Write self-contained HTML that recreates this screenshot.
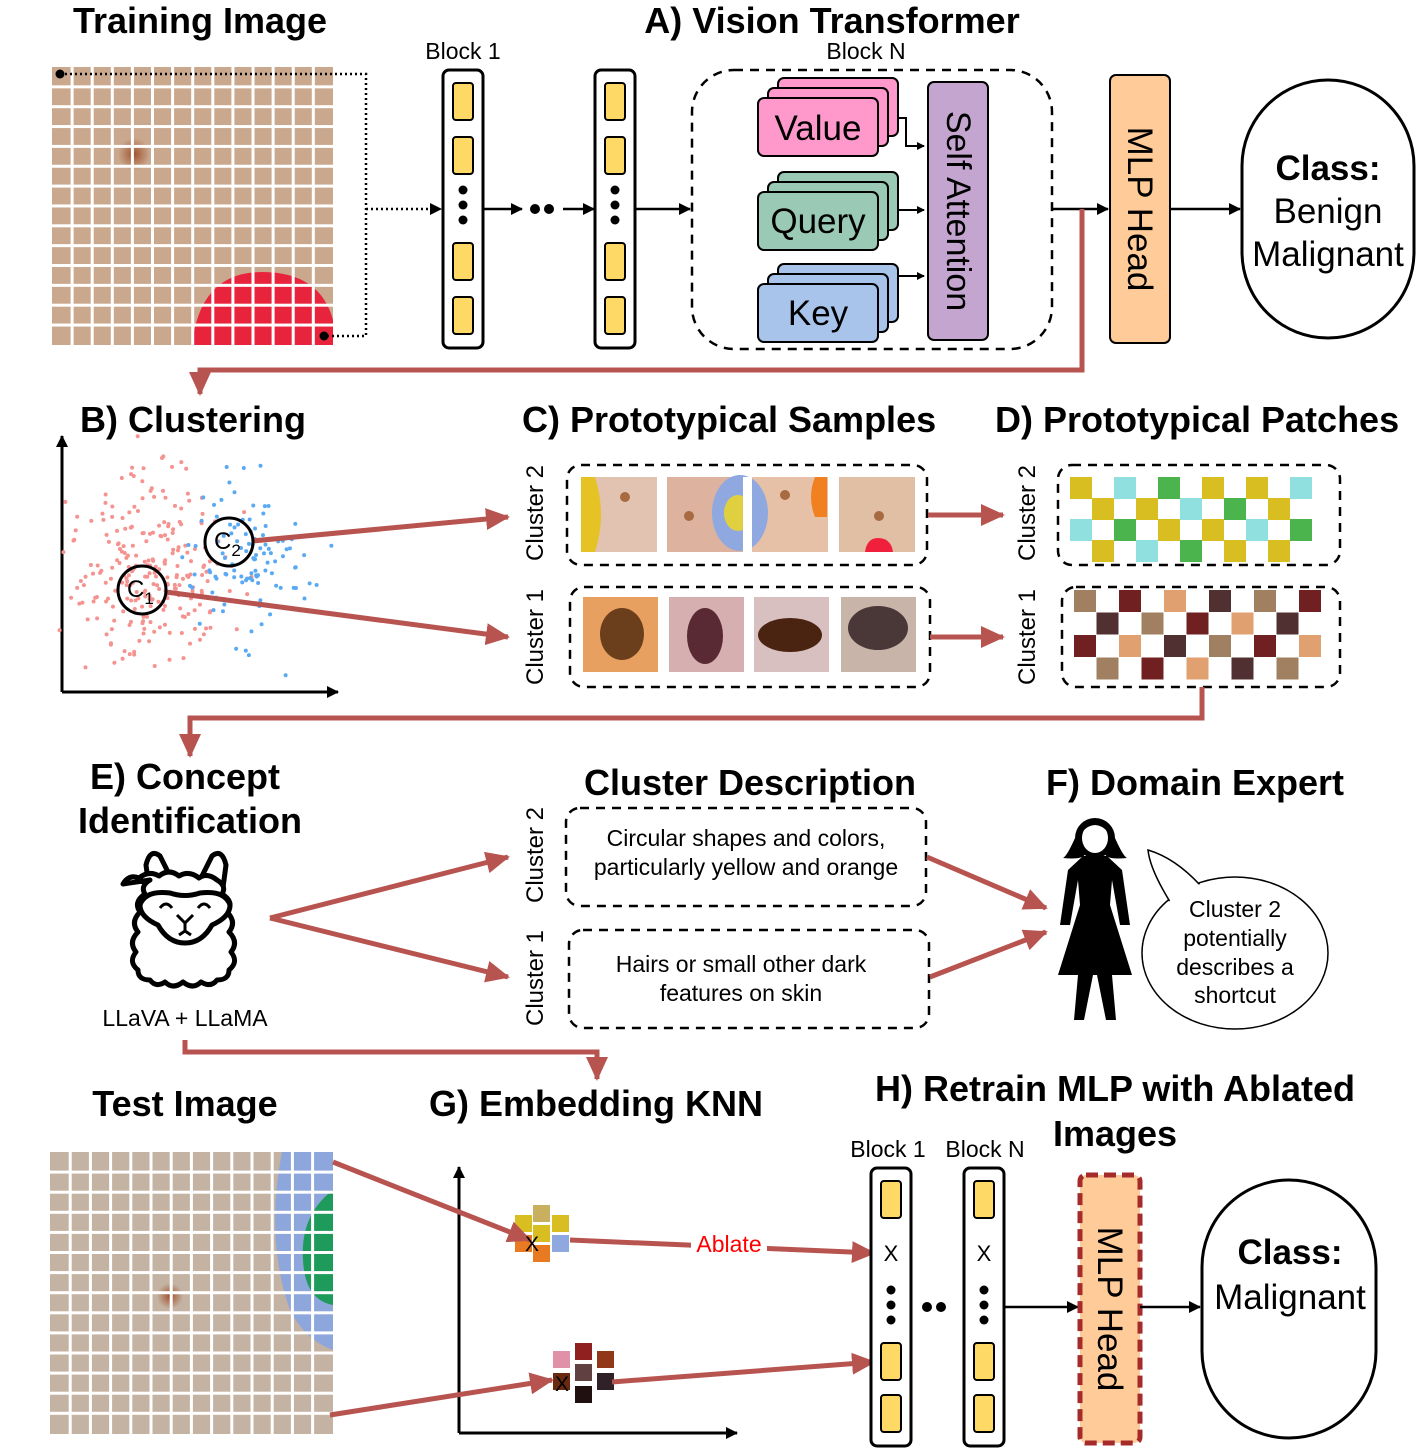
<!DOCTYPE html>
<html><head><meta charset="utf-8"><style>
html,body{margin:0;padding:0;background:#fff;}
svg{display:block;font-family:"Liberation Sans",Arial,sans-serif;}
.t{font-weight:bold;font-size:36px;}
</style></head><body>
<svg id="s" width="1417" height="1450" viewBox="0 0 1417 1450" xmlns="http://www.w3.org/2000/svg">
<defs>
<marker id="ab" markerWidth="8" markerHeight="8" refX="7" refY="4" orient="auto" markerUnits="userSpaceOnUse"><path d="M0,0 L8,4 L0,8 z" fill="#000"/></marker>
<marker id="ab2" markerWidth="12" markerHeight="12" refX="11" refY="6" orient="auto" markerUnits="userSpaceOnUse"><path d="M0,0 L12,6 L0,12 z" fill="#000"/></marker>
<marker id="ar" markerWidth="24" markerHeight="22" refX="22" refY="11" orient="auto" markerUnits="userSpaceOnUse"><path d="M0,0 L24,11 L0,22 z" fill="#B85450"/></marker>
<radialGradient id="mole" cx="0.5" cy="0.5" r="0.5"><stop offset="0" stop-color="#a0522d"/><stop offset="1" stop-color="#a0522d" stop-opacity="0"/></radialGradient>
</defs>
<g id="g"></g>

<text class="t" x="200" y="33" text-anchor="middle">Training Image</text>
<text class="t" x="832" y="33" text-anchor="middle">A) Vision Transformer</text>
<text x="463" y="59" font-size="23" text-anchor="middle">Block 1</text>
<text x="866" y="59" font-size="23" text-anchor="middle">Block N</text>

<path d="M60,74 H366 V336 H324" fill="none" stroke="#000" stroke-width="2.5" stroke-dasharray="2,3"/>
<circle cx="60" cy="74" r="4.5"/><circle cx="324" cy="336" r="4.5"/>
<line x1="366" y1="209" x2="441" y2="209" stroke="#000" stroke-width="2.5" stroke-dasharray="2,3" marker-end="url(#ab2)"/>
<line x1="483" y1="209" x2="522" y2="209" stroke="#000" stroke-width="2.5" marker-end="url(#ab2)"/>
<circle cx="535" cy="209" r="5"/><circle cx="549" cy="209" r="5"/>
<line x1="563" y1="209" x2="594" y2="209" stroke="#000" stroke-width="2.5" marker-end="url(#ab2)"/>
<line x1="635" y1="209" x2="690" y2="209" stroke="#000" stroke-width="2.5" marker-end="url(#ab2)"/>

<rect x="692" y="70" width="360" height="279" rx="42" fill="none" stroke="#000" stroke-width="2.5" stroke-dasharray="9,7"/>
<g stroke="#000" stroke-width="2">
<rect x="778" y="78" width="120" height="58" rx="6" fill="#FF99CC"/><rect x="768" y="88" width="120" height="58" rx="6" fill="#FF99CC"/><rect x="758" y="98" width="120" height="58" rx="6" fill="#FF99CC"/>
<rect x="778" y="172" width="120" height="58" rx="6" fill="#9AC9B6"/><rect x="768" y="182" width="120" height="58" rx="6" fill="#9AC9B6"/><rect x="758" y="192" width="120" height="58" rx="6" fill="#9AC9B6"/>
<rect x="778" y="264" width="120" height="58" rx="6" fill="#A9C4EB"/><rect x="768" y="274" width="120" height="58" rx="6" fill="#A9C4EB"/><rect x="758" y="284" width="120" height="58" rx="6" fill="#A9C4EB"/>
<rect x="928" y="82" width="60" height="258" rx="6" fill="#C3A5CF"/>
<rect x="1110" y="75" width="60" height="268" rx="6" fill="#FFCC99"/>
</g>
<text x="818" y="140" font-size="35" text-anchor="middle">Value</text>
<text x="818" y="233" font-size="35" text-anchor="middle">Query</text>
<text x="818" y="325" font-size="35" text-anchor="middle">Key</text>
<g fill="none" stroke="#000" stroke-width="2">
<path d="M898,118 H906 V146 H924" marker-end="url(#ab)"/>
<path d="M898,210 H924" marker-end="url(#ab)"/>
<path d="M898,302 V276 H924" marker-end="url(#ab)"/>
</g>
<text transform="translate(947,211) rotate(90)" font-size="34" text-anchor="middle">Self Attention</text>
<text transform="translate(1128,209) rotate(90)" font-size="35" text-anchor="middle">MLP Head</text>
<line x1="1052" y1="209" x2="1108" y2="209" stroke="#000" stroke-width="2.5" marker-end="url(#ab2)"/>
<line x1="1170" y1="209" x2="1240" y2="209" stroke="#000" stroke-width="2.5" marker-end="url(#ab2)"/>
<rect x="1242" y="80" width="172" height="258" rx="86" fill="#fff" stroke="#000" stroke-width="3"/>
<text x="1328" y="180" font-size="35" font-weight="bold" text-anchor="middle">Class:</text>
<text x="1328" y="223" font-size="35" text-anchor="middle">Benign</text>
<text x="1328" y="266" font-size="35" text-anchor="middle">Malignant</text>

<path d="M1082,209 V370 H200 V394" fill="none" stroke="#B85450" stroke-width="5" marker-end="url(#ar)"/>

<text class="t" x="80" y="432">B) Clustering</text>
<line x1="62" y1="692" x2="62" y2="436" stroke="#000" stroke-width="3" marker-end="url(#ab2)"/>
<line x1="62" y1="692" x2="338" y2="692" stroke="#000" stroke-width="3" marker-end="url(#ab2)"/>
<g id="sc"></g>
<line x1="252" y1="541" x2="508" y2="517" stroke="#B85450" stroke-width="5" marker-end="url(#ar)"/>
<line x1="166" y1="592" x2="508" y2="637" stroke="#B85450" stroke-width="5" marker-end="url(#ar)"/>
<circle cx="229" cy="542" r="24" fill="none" stroke="#000" stroke-width="3"/>
<circle cx="142" cy="590" r="24" fill="none" stroke="#000" stroke-width="3"/>
<text x="214" y="549" font-size="24">C<tspan font-size="17" dy="7">2</tspan></text>
<text x="127" y="597" font-size="24">C<tspan font-size="17" dy="7">1</tspan></text>

<text class="t" x="522" y="432">C) Prototypical Samples</text>
<text class="t" x="995" y="432">D) Prototypical Patches</text>
<g font-size="24" text-anchor="middle">
<text transform="translate(543,513) rotate(-90)">Cluster 2</text>
<text transform="translate(543,637) rotate(-90)">Cluster 1</text>
<text transform="translate(1035,513) rotate(-90)">Cluster 2</text>
<text transform="translate(1035,637) rotate(-90)">Cluster 1</text>
<text transform="translate(543,855) rotate(-90)">Cluster 2</text>
<text transform="translate(543,978) rotate(-90)">Cluster 1</text>
</g>
<g fill="none" stroke="#000" stroke-width="2.5" stroke-dasharray="9,7">
<rect x="567" y="465" width="360" height="100" rx="14"/>
<rect x="570" y="587" width="360" height="100" rx="14"/>
<rect x="1058" y="465" width="282" height="100" rx="14"/>
<rect x="1062" y="587" width="278" height="100" rx="14"/>
</g>
<g id="imgs"></g>
<line x1="928" y1="515" x2="1003" y2="515" stroke="#B85450" stroke-width="5" marker-end="url(#ar)"/>
<line x1="930" y1="637" x2="1003" y2="637" stroke="#B85450" stroke-width="5" marker-end="url(#ar)"/>
<path d="M1202,687 V718 H190 V756" fill="none" stroke="#B85450" stroke-width="5" marker-end="url(#ar)"/>

<text class="t" x="185" y="789" text-anchor="middle">E) Concept</text>
<text class="t" x="190" y="833" text-anchor="middle">Identification</text>
<g fill="#fff" stroke="#000" stroke-width="5" stroke-linejoin="round">
<path d="M150,895 L146,865 Q150,848 160,856 L172,880 L200,880 L212,856 Q222,848 226,865 L222,895 Z"/>
<path d="M150,880 q-10,6 -5,14 q-12,8 -5,18 q-10,10 -2,20 q-10,10 -2,20 q-8,10 2,18 q0,10 12,10 q6,8 15,2 q8,8 18,0 q10,8 18,0 q10,6 16,-2 q12,0 12,-10 q10,-8 2,-18 q8,-10 -2,-20 q8,-10 -2,-20 q8,-10 -5,-18 q5,-8 -5,-14 q-10,-8 -18,-2 q-10,-8 -20,-2 q-10,-8 -20,0 q-10,-6 -20,2 q-10,-4 -16,6 z"/>
<path d="M140,905 q5,-15 30,-12 q15,5 30,0 q25,-3 30,12 q0,12 -18,20 q-10,18 -27,18 q-17,0 -27,-18 q-18,-8 -18,-20z"/>
</g>
<g fill="none" stroke="#000" stroke-width="3"><path d="M160,908 q6,-8 12,0"/><path d="M198,908 q6,-8 12,0"/><path d="M177,915 l8,8 l8,-8 M185,923 v8 l-6,4 M185,931 l6,4"/></g>
<text x="185" y="1026" font-size="23" text-anchor="middle">LLaVA + LLaMA</text>
<line x1="270" y1="918" x2="508" y2="857" stroke="#B85450" stroke-width="5" marker-end="url(#ar)"/>
<line x1="270" y1="918" x2="508" y2="977" stroke="#B85450" stroke-width="5" marker-end="url(#ar)"/>
<text class="t" x="750" y="795" text-anchor="middle">Cluster Description</text>
<g fill="none" stroke="#000" stroke-width="2.5" stroke-dasharray="9,7">
<rect x="566" y="808" width="360" height="98" rx="14"/>
<rect x="569" y="930" width="360" height="98" rx="14"/>
</g>
<g font-size="23" text-anchor="middle">
<text x="746" y="846">Circular shapes and colors,</text>
<text x="746" y="875">particularly yellow and orange</text>
<text x="741" y="972">Hairs or small other dark</text>
<text x="741" y="1001">features on skin</text>
</g>
<line x1="927" y1="857" x2="1046" y2="908" stroke="#B85450" stroke-width="5" marker-end="url(#ar)"/>
<line x1="930" y1="977" x2="1046" y2="932" stroke="#B85450" stroke-width="5" marker-end="url(#ar)"/>

<text class="t" x="1195" y="795" text-anchor="middle">F) Domain Expert</text>
<g fill="#000">
<ellipse cx="1095" cy="838" rx="20" ry="20"/>
<path d="M1075,838 q-8,18 -12,20 q20,2 22,-4 z M1115,838 q8,18 12,20 q-20,2 -22,-4 z"/>
<path d="M1083,856 L1107,856 L1122,870 L1130,925 L1120,925 L1112,880 L1110,905 L1132,975 L1112,975 L1116,1020 L1106,1020 L1097,975 L1093,975 L1084,1020 L1074,1020 L1078,975 L1058,975 L1080,905 L1078,880 L1070,925 L1060,925 L1068,870 z"/>
</g>
<ellipse cx="1095" cy="838" rx="13" ry="15" fill="#fff"/>
<path d="M1082,832 q13,-14 26,0 q-6,-10 -13,-10 q-7,0 -13,10z" fill="#000"/>
<ellipse cx="1235" cy="953" rx="93" ry="76" fill="#fff" stroke="#000" stroke-width="1.5"/>
<path d="M1172,905 Q1150,870 1148,850 Q1175,858 1200,885" fill="#fff" stroke="#000" stroke-width="1.5"/>
<ellipse cx="1235" cy="953" rx="91.5" ry="74.5" fill="#fff"/>
<g font-size="23" text-anchor="middle">
<text x="1235" y="917">Cluster 2</text><text x="1235" y="946">potentially</text><text x="1235" y="975">describes a</text><text x="1235" y="1003">shortcut</text>
</g>

<path d="M185,1040 V1052 H597 V1079" fill="none" stroke="#B85450" stroke-width="5" marker-end="url(#ar)"/>

<text class="t" x="185" y="1116" text-anchor="middle">Test Image</text>
<text class="t" x="596" y="1116" text-anchor="middle">G) Embedding KNN</text>
<text class="t" x="1115" y="1101" text-anchor="middle">H) Retrain MLP with Ablated</text>
<text class="t" x="1115" y="1146" text-anchor="middle">Images</text>
<line x1="459" y1="1433" x2="459" y2="1167" stroke="#000" stroke-width="3" marker-end="url(#ab2)"/>
<line x1="459" y1="1433" x2="737" y2="1433" stroke="#000" stroke-width="3" marker-end="url(#ab2)"/>
<g id="knn"></g>
<line x1="333" y1="1162" x2="530" y2="1240" stroke="#B85450" stroke-width="5" marker-end="url(#ar)"/>
<line x1="330" y1="1415" x2="552" y2="1380" stroke="#B85450" stroke-width="5" marker-end="url(#ar)"/>
<line x1="570" y1="1240" x2="874" y2="1253" stroke="#B85450" stroke-width="5" marker-end="url(#ar)"/>
<line x1="612" y1="1382" x2="874" y2="1362" stroke="#B85450" stroke-width="5" marker-end="url(#ar)"/>
<rect x="691" y="1230" width="76" height="28" fill="#fff"/>
<text x="729" y="1252" font-size="23" fill="#FF0000" text-anchor="middle">Ablate</text>
<text x="525" y="1251" font-size="21">X</text>
<text x="555" y="1391" font-size="21">X</text>
<text x="888" y="1157" font-size="23" text-anchor="middle">Block 1</text>
<text x="985" y="1157" font-size="23" text-anchor="middle">Block N</text>
<g id="blocks"></g>
<circle cx="927" cy="1307" r="5"/><circle cx="941" cy="1307" r="5"/>
<line x1="1004" y1="1307" x2="1078" y2="1307" stroke="#000" stroke-width="2.5" marker-end="url(#ab2)"/>
<rect x="1080" y="1175" width="60" height="268" rx="6" fill="#FFCC99" stroke="#A52A2A" stroke-width="5" stroke-dasharray="12,6"/>
<text transform="translate(1098,1309) rotate(90)" font-size="35" text-anchor="middle">MLP Head</text>
<line x1="1140" y1="1307" x2="1200" y2="1307" stroke="#000" stroke-width="2.5" marker-end="url(#ab2)"/>
<rect x="1202" y="1180" width="174" height="258" rx="87" fill="#fff" stroke="#000" stroke-width="3"/>
<text x="1290" y="1264" font-size="35" font-weight="bold" text-anchor="middle">Class:</text>
<text x="1290" y="1309" font-size="35" text-anchor="middle">Malignant</text>
</svg>
<script>
var NS="http://www.w3.org/2000/svg";
function el(p,t,a){var e=document.createElementNS(NS,t);for(var k in a)e.setAttribute(k,a[k]);p.appendChild(e);return e;}
var g=document.getElementById('g');
el(g,'rect',{x:52,y:67,width:281,height:278,fill:'#C9A88E'});
el(g,'circle',{cx:134,cy:154,r:16,fill:'url(#mole)'});
el(g,'path',{d:'M192,345 Q200,272 262,272 Q320,272 333,320 V345 Z',fill:'#E8243C'});
for(var i=1;i<14;i++){el(g,'rect',{x:52+i*20.1-1.5,y:67,width:3,height:278,fill:'#fff'});el(g,'rect',{x:52,y:67+i*19.85-1.5,width:281,height:3,fill:'#fff'});}
el(g,'rect',{x:50,y:1152,width:283,height:282,fill:'#C4B2A2'});
el(g,'path',{d:'M333,1152 H282 Q265,1240 290,1310 Q305,1340 333,1350 Z',fill:'#8DA6DC'});
el(g,'path',{d:'M333,1190 Q300,1215 303,1260 Q305,1300 333,1305 Z',fill:'#1E9A5A'});
el(g,'circle',{cx:170,cy:1296,r:13,fill:'url(#mole)'});
for(var i=1;i<14;i++){el(g,'rect',{x:50+i*20.2-1.5,y:1152,width:3,height:282,fill:'#fff'});el(g,'rect',{x:50,y:1152+i*20.1-1.5,width:283,height:3,fill:'#fff'});}
var seed=7;function r(){seed=(seed*16807)%2147483647;return seed/2147483647;}
function gauss(){return (r()+r()+r()+r()-2)/1.0;}
var sc=document.getElementById('sc');
for(var i=0;i<250;i++)el(sc,'circle',{cx:150+gauss()*60,cy:565+gauss()*75,r:2,fill:'#F4938F'});
for(var i=0;i<110;i++)el(sc,'circle',{cx:250+gauss()*55,cy:560+gauss()*70,r:2,fill:'#5AAAF3'});
var im=document.getElementById('imgs');
var xs=[581,667,752,839];
var c2=['#E2C2B0','#DDB39F','#E6C1A8','#E0BFA4'];
xs.forEach(function(x,i){el(im,'rect',{x:x,y:477,width:76,height:75,fill:c2[i]});});
el(im,'path',{d:'M581,477 h14 q12,38 0,75 h-14z',fill:'#E6C324'});
el(im,'ellipse',{cx:740,cy:513,rx:28,ry:38,fill:'#8FA8E0'});el(im,'ellipse',{cx:738,cy:513,rx:14,ry:18,fill:'#E0D040'});
el(im,'rect',{x:743,y:477,width:9,height:75,fill:'#fff'});
el(im,'path',{d:'M827,477 h-12 q-8,20 0,40 h12z',fill:'#F08020'});
el(im,'path',{d:'M865,552 q2,-14 13,-14 q13,0 15,14z',fill:'#F0203C'});
[[625,497],[689,516],[785,495],[879,516]].forEach(function(p){el(im,'circle',{cx:p[0],cy:p[1],r:5,fill:'#A86A40'});});
var c1b=['#E8A060','#D6B0B0','#D8C0C0','#C8B4A8'];
xs.forEach(function(x,i){el(im,'rect',{x:x+2,y:597,width:75,height:75,fill:c1b[i]});});
el(im,'ellipse',{cx:622,cy:634,rx:22,ry:26,fill:'#6B3E1C'});
el(im,'ellipse',{cx:705,cy:636,rx:18,ry:28,fill:'#5A2A34'});
el(im,'ellipse',{cx:790,cy:635,rx:32,ry:17,fill:'#4A2410'});
el(im,'ellipse',{cx:878,cy:628,rx:30,ry:22,fill:'#4A3838'});
function grid(x0,y0,colors,w,h,dx,dy){for(var c=0;c<11;c++)for(var rr=0;rr<4;rr++){if((c+rr)%2)continue;el(im,'rect',{x:x0+c*dx,y:y0+rr*dy,width:w,height:h,fill:colors[(c*3+rr*7)%colors.length]});}}
grid(1070,477,['#D9BE22','#E87B22','#D9BE22','#8FA8E0','#4CB44C','#C8A080','#90E0E0','#D9BE22'],22,22,22,21);
grid(1074,590,['#A08060','#D8B8C8','#503030','#C07070','#E0A070','#B09070','#702020','#D890A8'],22,22,22.5,22.5);
var k=document.getElementById('knn');
[[515,1215,'#D9BE22'],[533,1205,'#C8B060'],[552,1215,'#D9BE22'],[533,1225,'#D9BE22'],[515,1235,'#E87B22'],[552,1235,'#8FA8E0'],[533,1245,'#E87B22']].forEach(function(p){el(k,'rect',{x:p[0],y:p[1],width:17,height:17,fill:p[2]});});
[[553,1351,'#E090A8'],[575,1343,'#902020'],[597,1351,'#903818'],[575,1364,'#604040'],[553,1373,'#6A2A10'],[597,1373,'#302028'],[575,1386,'#201010']].forEach(function(p){el(k,'rect',{x:p[0],y:p[1],width:17,height:17,fill:p[2]});});
var b=document.getElementById('blocks');
function blk(p,x,y,h,ys,dots,xm){el(p,'rect',{x:x,y:y,width:40,height:h,rx:6,fill:'#fff',stroke:'#000','stroke-width':3});
ys.forEach(function(yy){el(p,'rect',{x:x+10,y:yy,width:20,height:37,rx:3,fill:'#FFD966',stroke:'#000','stroke-width':2});});
dots.forEach(function(yy){el(p,'circle',{cx:x+20,cy:yy,r:4.5});});
if(xm){var t=el(p,'text',{x:x+20,y:xm,'font-size':22,'text-anchor':'middle'});t.textContent='X';}}
blk(g,443,70,278,[83,137,243,297],[190,205,220]);
blk(g,595,70,278,[83,137,243,297],[190,205,220]);
blk(b,871,1168,278,[1181,1343,1395],[1290,1305,1320],1261);
blk(b,964,1168,278,[1181,1343,1395],[1290,1305,1320],1261);
</script>
</body></html>
